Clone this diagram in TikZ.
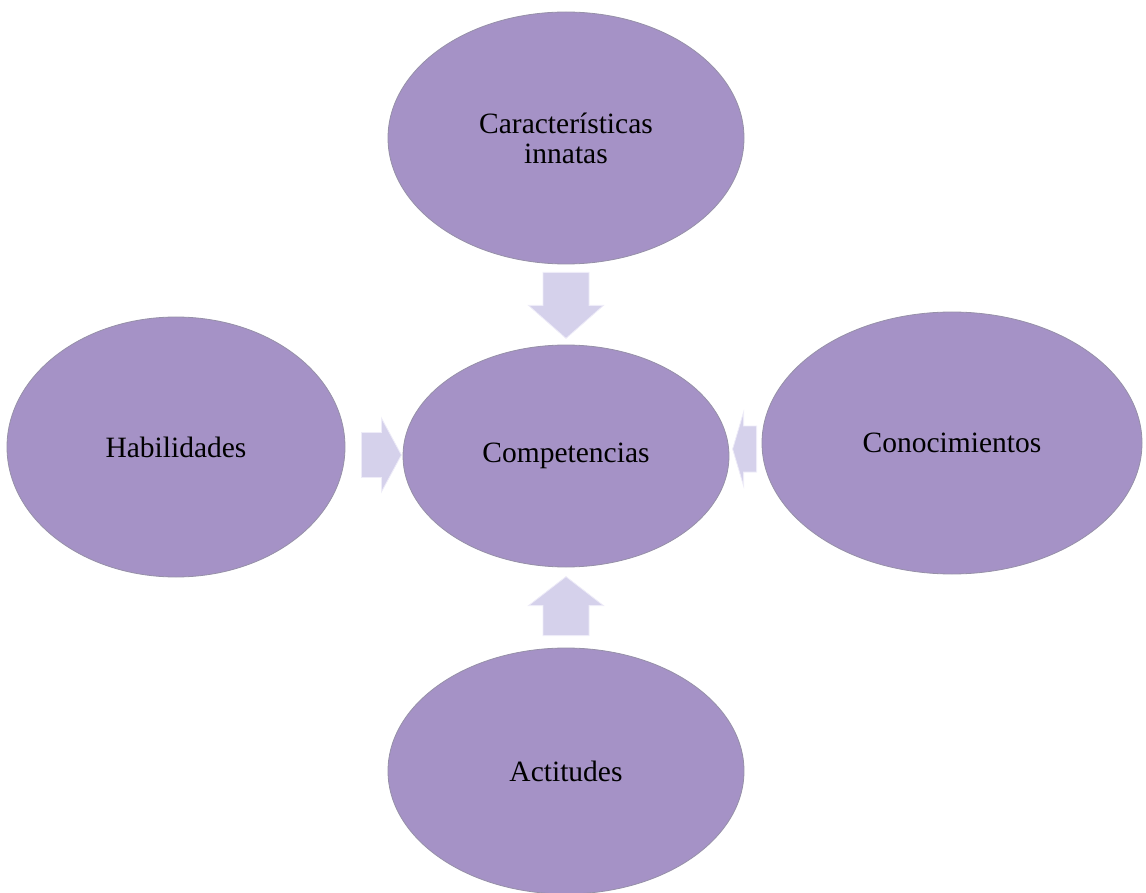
\documentclass[tikz,border=0pt]{standalone}
\usepackage{fontspec}
\setmainfont{Liberation Serif}
\usetikzlibrary{shapes.geometric,calc}
\definecolor{ovalline}{RGB}{150,144,168}
\definecolor{arrowfill}{RGB}{213,209,235}
\definecolor{arrowline}{RGB}{238,236,248}
\pgfdeclareradialshading{ovalrim}{\pgfpoint{0bp}{0bp}}{rgb(0bp)=(0.647,0.573,0.776); rgb(45bp)=(0.647,0.573,0.776); rgb(48.5bp)=(0.74,0.67,0.91); rgb(50bp)=(0.80,0.74,0.95)}
\tikzset{
	oval/.style={ellipse, shade, shading=ovalrim, draw=ovalline, line width=0.8pt, inner sep=0pt, align=center, font=\fontsize{29.5}{30}\selectfont},
	pics/fatarrow/.style n args={4}{code={
		\draw[fill=arrowfill, draw=arrowline, line width=0.8pt] (0,-#1) -- (#2,-#1) -- (#2,-#3) -- (#2+#4,0) -- (#2,#3) -- (#2,#1) -- (0,#1) -- cycle;
	}}
}
\begin{document}
\begin{tikzpicture}[x=1pt,y=-1pt]
		\useasboundingbox (0,0) rectangle (1146,893);
		\node[oval, minimum width=356, minimum height=252] (car) at (566,138) {Características\\innatas};
		\node[oval, minimum width=326, minimum height=222] (comp) at (566,456) {Competencias};
		\node[oval, minimum width=338, minimum height=260] (hab) at (176,447) {Habilidades};
		\node[oval, minimum width=380, minimum height=262] (con) at (952,443) {Conocimientos};
		\node[oval, minimum width=356, minimum height=246] (act) at (566,771) {Actitudes};
		\pic[rotate=-90] at ($(car.south)+(0,8)$) {fatarrow={23}{33}{37.5}{33}};
		\pic at ($(hab.east)+(16,8)$) {fatarrow={22.5}{20}{37}{20}};
		\pic[rotate=180] at ($(con.west)+(-5,6)$) {fatarrow={23}{13}{37}{11}};
		\pic[rotate=90] at ($(act.north)+(0,-12)$) {fatarrow={23}{30}{37.5}{29}};
\end{tikzpicture}
\end{document}
